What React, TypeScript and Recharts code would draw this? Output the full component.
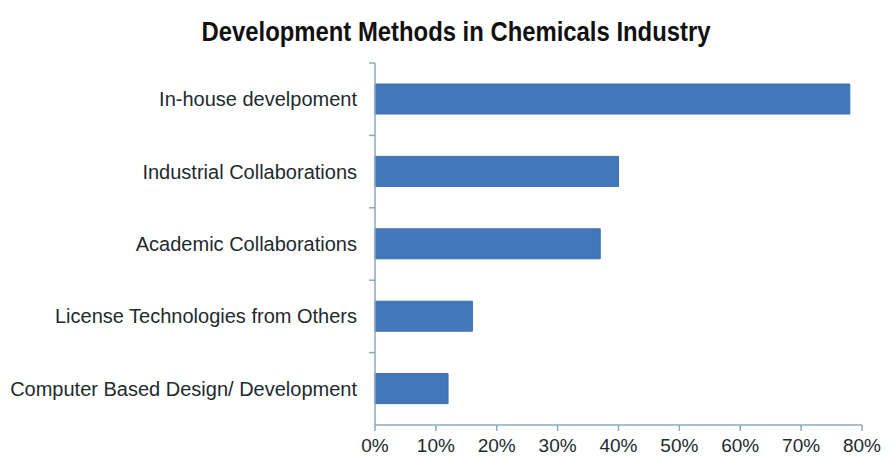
import React from "react";
import { BarChart, Bar, XAxis, YAxis } from "recharts";

const categories = [
  "In-house develpoment",
  "Industrial Collaborations",
  "Academic Collaborations",
  "License Technologies from Others",
  "Computer Based Design/ Development",
];
const shares = [78, 40, 37, 16, 12];
const xTicks = [0, 10, 20, 30, 40, 50, 60, 70, 80];
const title = "Development Methods in Chemicals Industry";

const data = categories.map((name, i) => ({ name, value: shares[i] }));

const W = 895;
const H = 458;
const X_HEIGHT = 30;
const MARGIN = { top: 63, right: 33, bottom: 3, left: 0 };
const Y_WIDTH = 375;
const TICK_MARGIN = 18;
const AXIS_COLOR = "#8ea8bd";
const TEXT_COLOR = "#222a2e";
const FONT = "'Liberation Sans', Arial, sans-serif";

const plotH = H - MARGIN.top - MARGIN.bottom - X_HEIGHT;
const band = plotH / categories.length;

const CatTick = (props: any) => {
  const { x, y, payload } = props;
  const axisX = x + TICK_MARGIN;
  const ty = y - band / 2;
  return (
    <g>
      <line x1={axisX - 6} x2={axisX} y1={ty} y2={ty} stroke={AXIS_COLOR} strokeWidth={1.5} />
      <text
        x={x}
        y={y}
        dy="0.35em"
        textAnchor="end"
        fontSize={20}
        fontFamily={FONT}
        fill={TEXT_COLOR}
      >
        {payload.value}
      </text>
    </g>
  );
};

export default function App() {
  return (
    <div style={{ position: "absolute", left: 0, top: 0, width: W, height: H, background: "#fff" }}>
      <BarChart width={W} height={H} data={data} layout="vertical" margin={MARGIN}>
        <text
          x={456}
          y={41}
          textAnchor="middle"
          fontSize={27}
          fontWeight="bold"
          fontFamily={FONT}
          fill="#111"
          textLength={509}
          lengthAdjust="spacingAndGlyphs"
        >
          {title}
        </text>
        <XAxis
          type="number"
          domain={[0, 80]}
          ticks={xTicks}
          interval={0}
          height={X_HEIGHT}
          tickFormatter={(v: number) => `${v}%`}
          axisLine={{ stroke: AXIS_COLOR, strokeWidth: 1.5 }}
          tickLine={{ stroke: AXIS_COLOR, strokeWidth: 1.5 }}
          tickSize={6}
          tickMargin={8}
          tick={{ fill: TEXT_COLOR, fontSize: 19, fontFamily: FONT }}
        />
        <YAxis
          type="category"
          dataKey="name"
          width={Y_WIDTH}
          axisLine={{ stroke: AXIS_COLOR, strokeWidth: 1.5 }}
          tickLine={false}
          tickSize={0}
          tickMargin={TICK_MARGIN}
          interval={0}
          tick={<CatTick />}
        />
        <Bar dataKey="value" fill="#4278b9" stroke="#3a70b2" strokeWidth={1} barSize={30} isAnimationActive={false} />
      </BarChart>
    </div>
  );
}
